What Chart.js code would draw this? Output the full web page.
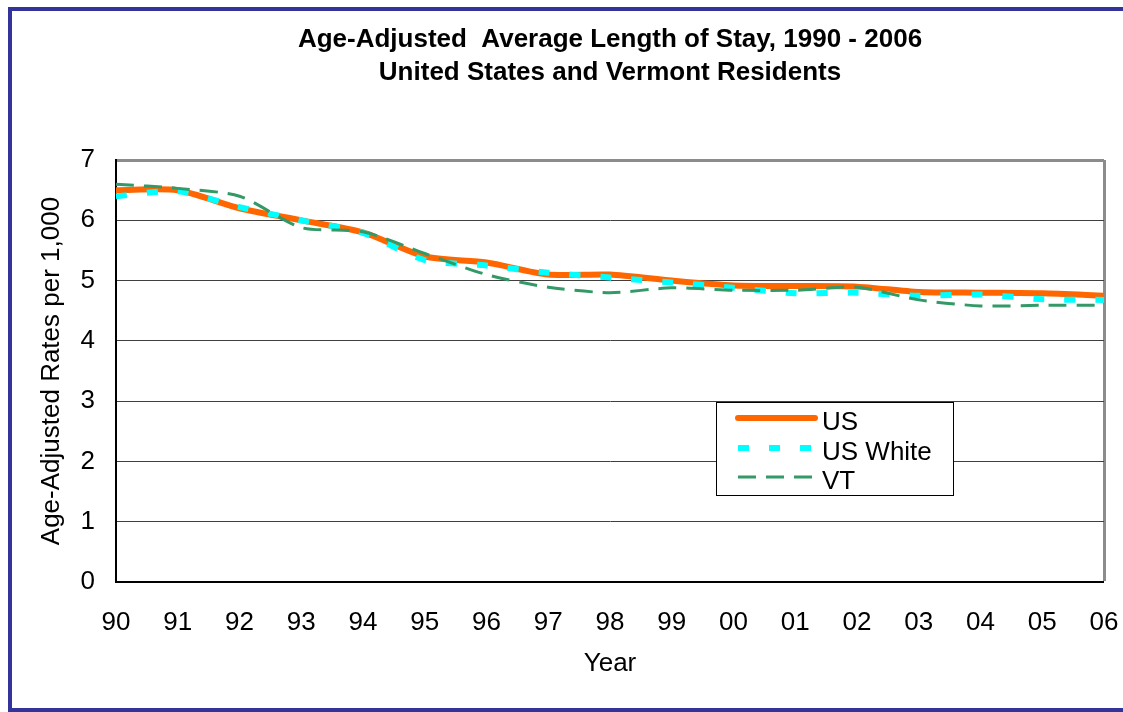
<!DOCTYPE html>
<html>
<head>
<meta charset="utf-8">
<script src="https://cdn.jsdelivr.net/npm/chart.js@4/dist/chart.umd.min.js"></script>
<style>
  html, body { margin: 0; padding: 0; background: #ffffff; }
  #wrap { width: 1123px; height: 712px; }
</style>
</head>
<body>
<div id="wrap"><canvas id="c" width="1123" height="712"></canvas></div>
<script>
const years = ['90','91','92','93','94','95','96','97','98','99','00','01','02','03','04','05','06'];
const seriesNames = ['US', 'US White', 'VT'];
const usValues      = [6.5, 6.5, 6.2, 6.0, 5.8, 5.4, 5.3, 5.1, 5.1, 5.0, 4.92, 4.91, 4.9, 4.81, 4.8, 4.79, 4.75];
const usWhiteValues = [6.4, 6.48, 6.22, 6.0, 5.79, 5.34, 5.25, 5.13, 5.05, 4.97, 4.88, 4.79, 4.8, 4.75, 4.77, 4.69, 4.68];
const vtValues      = [6.6, 6.53, 6.4, 5.88, 5.81, 5.45, 5.1, 4.89, 4.8, 4.88, 4.84, 4.84, 4.89, 4.68, 4.58, 4.59, 4.59];
const yTickValues = [0, 1, 2, 3, 4, 5, 6, 7];
const titleLines = ['Age-Adjusted  Average Length of Stay, 1990 - 2006', 'United States and Vermont Residents'];
const yTitle = 'Age-Adjusted Rates per 1,000';
const xTitle = 'Year';

const FONT = "'Liberation Sans', Arial, sans-serif";

const bgPlugin = {
  id: 'bg',
  beforeDraw(chart) {
    const ctx = chart.ctx;
    ctx.save();
    ctx.fillStyle = '#ffffff';
    ctx.fillRect(0, 0, chart.width, chart.height);
    ctx.restore();
  },
  afterDraw(chart) {
    const ctx = chart.ctx;
    ctx.save();
    ctx.strokeStyle = '#333399';
    ctx.lineWidth = 4;
    ctx.strokeRect(10, 9, chart.width + 20, 701);
    ctx.restore();
  }
};

const legendPlugin = {
  id: 'boxLegend',
  afterDatasetsDraw(chart) {
    const ctx = chart.ctx;
    ctx.save();
    ctx.fillStyle = '#ffffff';
    ctx.fillRect(716.5, 402.5, 237, 93);
    ctx.strokeStyle = '#000000';
    ctx.lineWidth = 1;
    ctx.strokeRect(716.5, 402.5, 237, 93);
    const rows = [418, 448, 477];
    chart.data.datasets.forEach((ds, i) => {
      const y = rows[i];
      ctx.beginPath();
      ctx.strokeStyle = ds.borderColor;
      ctx.lineWidth = ds.borderWidth;
      ctx.lineCap = ds.borderDash && ds.borderDash.length ? 'butt' : 'round';
      ctx.setLineDash(ds.borderDash || []);
      ctx.moveTo(738, y);
      ctx.lineTo(815, y);
      ctx.stroke();
      ctx.setLineDash([]);
      ctx.fillStyle = '#000000';
      ctx.font = '26px ' + FONT;
      ctx.textBaseline = 'alphabetic';
      ctx.textAlign = 'left';
      ctx.fillText(ds.label, 822, y + 11.5);
    });
    ctx.restore();
  }
};

new Chart(document.getElementById('c'), {
  type: 'line',
  data: {
    labels: years,
    datasets: [
      { label: seriesNames[0], data: usValues, borderColor: '#FF6600', borderWidth: 6, borderDash: [], order: 3 },
      { label: seriesNames[1], data: usWhiteValues, borderColor: '#00FFFF', borderWidth: 6, borderDash: [11, 20], order: 2 },
      { label: seriesNames[2], data: vtValues, borderColor: '#339966', borderWidth: 3, borderDash: [18, 10], order: 1 }
    ]
  },
  options: {
    responsive: false,
    animation: false,
    devicePixelRatio: 1,
    layout: { padding: { top: 0, left: 0, right: 19, bottom: 0 } },
    elements: {
      point: { radius: 0, hoverRadius: 0 },
      line: { tension: 0.25, fill: false, borderCapStyle: 'butt' }
    },
    plugins: {
      legend: { display: false },
      tooltip: { enabled: false },
      title: {
        display: true,
        fullSize: false,
        text: titleLines,
        color: '#000000',
        font: { family: FONT, size: 26, weight: 'bold', lineHeight: 1.27 },
        padding: { top: 23, bottom: 71 }
      }
    },
    scales: {
      x: {
        type: 'category',
        offset: false,
        afterFit(scale) { scale.height = 130; scale.paddingLeft = 0; scale.paddingRight = 0; },
        grid: {
          display: true,
          drawTicks: false,
          color: (c) => (c.index === years.length - 1 ? '#8c8c8c' : 'rgba(0,0,0,0)'),
          lineWidth: (c) => (c.index === years.length - 1 ? 3 : 0)
        },
        border: { display: true, color: '#000000', width: 2 },
        ticks: { color: '#000000', font: { family: FONT, size: 26 }, padding: 25, maxRotation: 0, autoSkip: false },
        title: { display: true, text: xTitle, color: '#000000', font: { family: FONT, size: 26 }, padding: { top: 0, bottom: 33 } }
      },
      y: {
        min: yTickValues[0],
        max: yTickValues[yTickValues.length - 1],
        afterFit(scale) { scale.width = 116; scale.paddingTop = 0; scale.paddingBottom = 0; },
        afterBuildTicks(scale) { scale.ticks = yTickValues.map(v => ({ value: v })); },
        grid: {
          drawTicks: false,
          color: (c) => (c.tick && c.tick.value === 7 ? '#8c8c8c' : '#404040'),
          lineWidth: (c) => (c.tick && c.tick.value === 7 ? 3 : 1)
        },
        border: { display: true, color: '#000000', width: 2 },
        ticks: { color: '#000000', font: { family: FONT, size: 26 }, padding: 21, stepSize: 1 },
        title: { display: true, text: yTitle, color: '#000000', font: { family: FONT, size: 26 }, padding: { top: 36, bottom: 0 } }
      }
    }
  },
  plugins: [bgPlugin, legendPlugin]
});
</script>
</body>
</html>
